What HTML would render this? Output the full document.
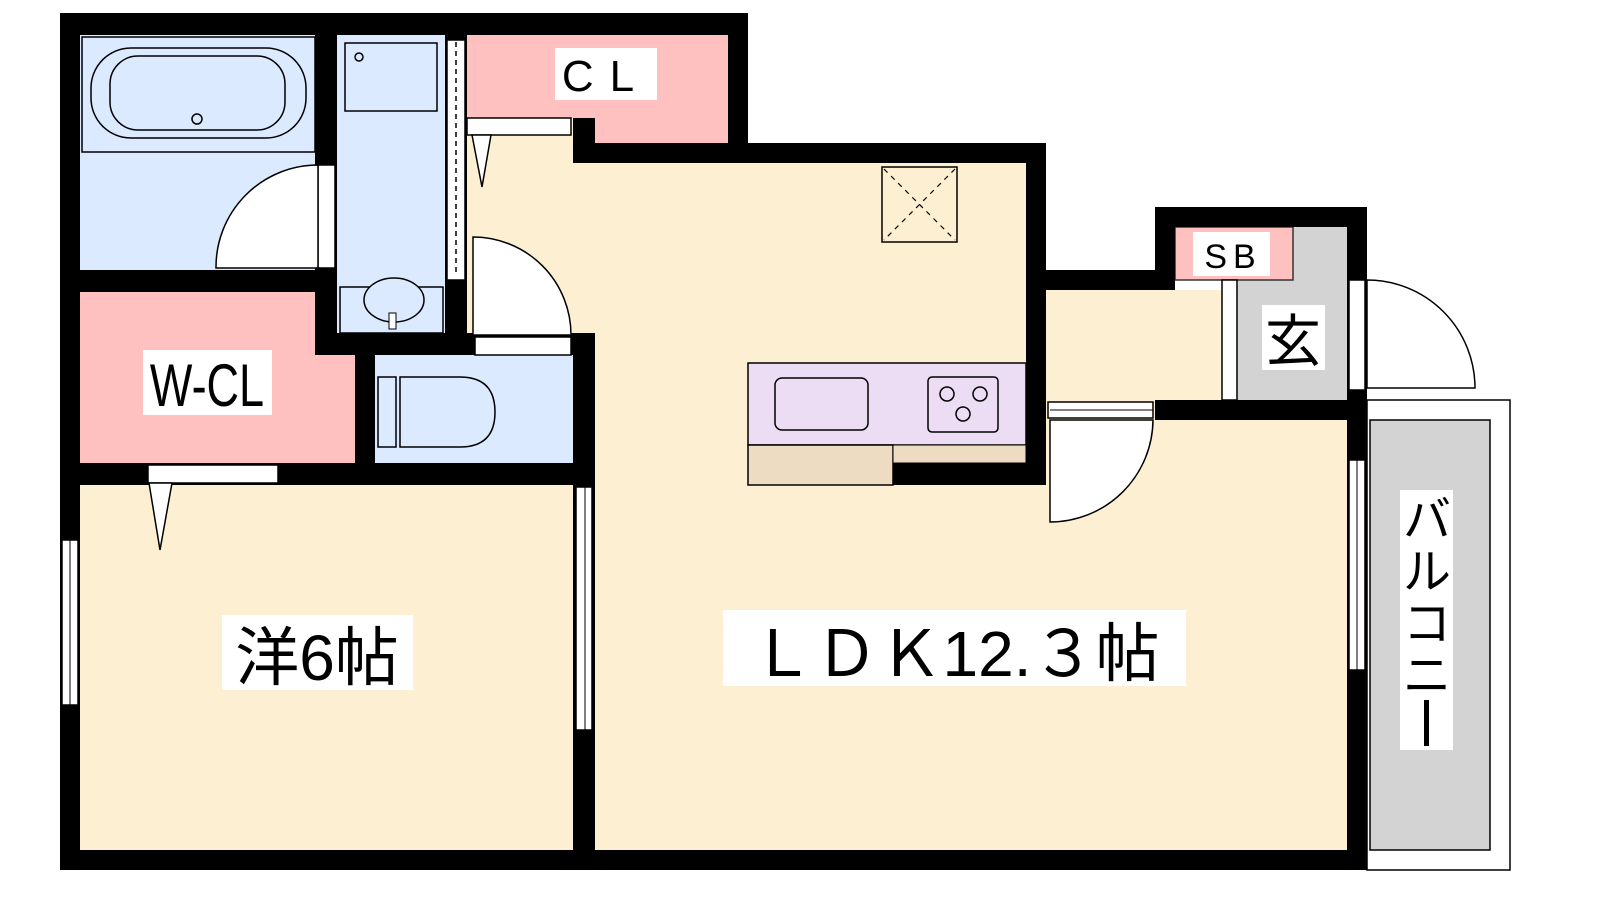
<!DOCTYPE html>
<html><head><meta charset="utf-8"><style>
html,body{margin:0;padding:0;background:#fff;}
svg{display:block;}
text{font-family:"Liberation Sans","Noto Sans CJK JP",sans-serif;}
</style></head><body>
<svg width="1600" height="900" viewBox="0 0 1600 900" xmlns="http://www.w3.org/2000/svg">
<rect width="1600" height="900" fill="#fff"/>
<!-- floors -->
<rect x="80" y="292" width="275" height="171" fill="#ffc0c0"/>
<rect x="80" y="35" width="237" height="235" fill="#dbeaff"/>
<rect x="337" y="35" width="108" height="298" fill="#dbeaff"/>
<rect x="467" y="35" width="261" height="108" fill="#ffc0c0"/>
<rect x="467" y="118" width="108" height="45" fill="#fdf0d2"/>
<rect x="467" y="140" width="128" height="200" fill="#fdf0d2"/>
<rect x="595" y="163" width="431" height="687" fill="#fdf0d2"/>
<rect x="1026" y="400" width="321" height="450" fill="#fdf0d2"/>
<rect x="375" y="355" width="198" height="108" fill="#dbeaff"/>
<rect x="80" y="485" width="495" height="365" fill="#fdf0d2"/>
<rect x="1046" y="290" width="301" height="110" fill="#fdf0d2"/>
<rect x="1237" y="227" width="110" height="173" fill="#d3d3d3"/>
<rect x="1175" y="227" width="118" height="53" fill="#ffc0c0" stroke="#333" stroke-width="1.5"/>
<rect x="1222" y="280" width="15" height="120" fill="#fff" stroke="#000" stroke-width="1.5"/>
<!-- balcony -->
<rect x="1367" y="400" width="143" height="470" fill="#fff" stroke="#000" stroke-width="1.5"/>
<rect x="1370" y="420" width="120" height="430" fill="#d3d3d3" stroke="#000" stroke-width="1.5"/>
<!-- kitchen -->
<rect x="748" y="363" width="278" height="82" fill="#ecdcf4" stroke="#000" stroke-width="1.5"/>
<rect x="748" y="445" width="145" height="40" fill="#eedcc2" stroke="#000" stroke-width="1.5"/>
<rect x="893" y="445" width="133" height="18" fill="#eedcc2" stroke="#000" stroke-width="1"/>
<rect x="775" y="378" width="93" height="52" rx="7" fill="none" stroke="#000" stroke-width="1.5"/>
<rect x="928" y="377" width="70" height="55" rx="4" fill="none" stroke="#000" stroke-width="1.5"/>
<circle cx="947" cy="394" r="7" fill="none" stroke="#000" stroke-width="1.5"/>
<circle cx="980" cy="394" r="7" fill="none" stroke="#000" stroke-width="1.5"/>
<circle cx="963" cy="414" r="7" fill="none" stroke="#000" stroke-width="1.5"/>
<!-- fridge -->
<rect x="882" y="167" width="75" height="75" fill="none" stroke="#000" stroke-width="1.5"/>
<path d="M884 169L955 240M955 169L884 240" stroke="#000" stroke-width="1.2" stroke-dasharray="5,5"/>
<!-- bath fixtures -->
<rect x="82" y="37" width="233" height="115" fill="none" stroke="#000" stroke-width="1.5"/>
<rect x="91" y="48" width="215" height="90" rx="40" fill="none" stroke="#000" stroke-width="1.5"/>
<rect x="110" y="56" width="175" height="74" rx="28" fill="none" stroke="#000" stroke-width="1.5"/>
<circle cx="197" cy="119" r="5" fill="none" stroke="#000" stroke-width="1.5"/>
<rect x="345" y="43" width="92" height="68" fill="none" stroke="#000" stroke-width="1.5"/>
<circle cx="359" cy="57" r="4" fill="none" stroke="#000" stroke-width="1.5"/>
<rect x="340" y="287" width="103" height="46" fill="none" stroke="#000" stroke-width="1.5"/>
<ellipse cx="394" cy="300" rx="30" ry="22" fill="#dbeaff" stroke="#000" stroke-width="1.5"/>
<rect x="389" y="313" width="7" height="16" fill="#fff" stroke="#000" stroke-width="1"/>
<!-- toilet -->
<rect x="378" y="377" width="18" height="70" fill="none" stroke="#000" stroke-width="1.5"/>
<path d="M400 377H460Q495 377 495 412Q495 447 460 447H400Z" fill="none" stroke="#000" stroke-width="1.5"/>
<!-- walls -->
<g fill="#000">
<rect x="60" y="13" width="688" height="22"/>
<rect x="60" y="13" width="20" height="857"/>
<rect x="728" y="13" width="20" height="130"/>
<rect x="573" y="118" width="22" height="45"/>
<rect x="573" y="143" width="473" height="20"/>
<rect x="1026" y="143" width="20" height="342"/>
<rect x="893" y="463" width="153" height="22"/>
<rect x="60" y="850" width="1307" height="20"/>
<rect x="315" y="35" width="22" height="320"/>
<rect x="80" y="270" width="257" height="22"/>
<rect x="445" y="35" width="22" height="320"/>
<rect x="315" y="333" width="280" height="22"/>
<rect x="355" y="333" width="20" height="152"/>
<rect x="573" y="333" width="22" height="517"/>
<rect x="60" y="463" width="535" height="22"/>
<rect x="1046" y="270" width="129" height="20"/>
<rect x="1155" y="207" width="212" height="20"/>
<rect x="1155" y="207" width="20" height="83"/>
<rect x="1347" y="207" width="20" height="663"/>
<rect x="1155" y="400" width="212" height="20"/>
</g>
<!-- openings -->
<g fill="#fff" stroke="#000" stroke-width="1.5">
<rect x="318" y="165" width="17" height="103"/>
<rect x="447" y="40" width="18" height="240"/>
<rect x="467" y="118" width="104" height="17"/>
<rect x="475" y="337" width="96" height="18"/>
<rect x="148" y="465" width="130" height="18"/>
<rect x="576" y="487" width="16" height="243"/>
<rect x="62" y="540" width="16" height="165"/>
<rect x="1048" y="402" width="105" height="16"/>
<rect x="1349" y="280" width="16" height="110"/>
<rect x="1349" y="460" width="16" height="210"/>
</g>
<path d="M456 42V275" stroke="#000" stroke-width="1.5" stroke-dasharray="5,4"/>
<path d="M585 487V730M1357 460V670M70 540V705M1050 410H1153" stroke="#000" stroke-width="1"/>
<!-- door swings -->
<g fill="#fff" stroke="#000" stroke-width="1.5">
<path d="M318 165A102 102 0 0 0 216 268H318Z"/>
<path d="M473 237A98 98 0 0 1 571 335H473Z"/>
<path d="M1050 420V522A103 103 0 0 0 1153 420Z"/>
<path d="M1367 280A108 108 0 0 1 1475 388H1367Z"/>
<path d="M472 135L482 187L491 135Z"/>
<path d="M149 483L160 550L172 483Z"/>
</g>
<!-- labels -->
<rect x="555" y="48" width="102" height="52" fill="#fff"/>
<text x="606" y="91" font-size="44" text-anchor="middle" letter-spacing="16">CL</text>
<rect x="143" y="350" width="129" height="65" fill="#fff"/>
<text x="207" y="406" font-size="60" text-anchor="middle" transform="translate(207 0) scale(0.75 1) translate(-207 0)">W-CL</text>
<rect x="1193" y="232" width="77" height="44" fill="#fff"/>
<text x="1233" y="268" font-size="34" text-anchor="middle" letter-spacing="6">SB</text>
<rect x="1262" y="305" width="63" height="65" fill="#fff"/>
<text x="1293" y="361" font-size="56" text-anchor="middle">玄</text>
<rect x="222" y="615" width="191" height="75" fill="#fff"/>
<text x="317" y="680" font-size="64" text-anchor="middle">洋6帖</text>
<rect x="723" y="610" width="463" height="76" fill="#fff"/>
<text x="955" y="676" font-size="64" text-anchor="middle">ＬＤＫ12.３帖</text>
<rect x="1400" y="490" width="53" height="260" fill="#fff"/>
<text x="1427" y="536" font-size="48" text-anchor="middle">バ</text>
<text x="1427" y="588" font-size="48" text-anchor="middle">ル</text>
<text x="1427" y="640" font-size="48" text-anchor="middle">コ</text>
<text x="1427" y="692" font-size="48" text-anchor="middle">ニ</text>
<rect x="1424" y="700" width="5" height="46" fill="#000"/>
</svg>
</body></html>
